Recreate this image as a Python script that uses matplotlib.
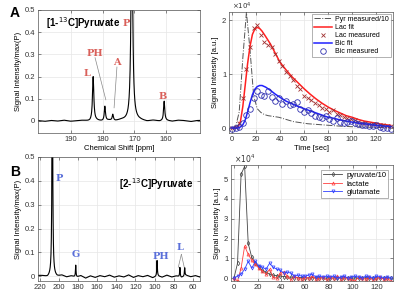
import numpy as np
import matplotlib.pyplot as plt

plt.rcParams['font.family'] = ['Liberation Sans', 'DejaVu Sans']

# --- Panel A, spectrum [1-13C]pyruvate: peak positions (ppm), heights, half-widths
a_peak_ppm = [183.0, 179.3, 176.8, 170.8, 160.6]
a_peak_h = [0.20, 0.065, 0.027, 1.0, 0.088]
a_peak_w = [0.25, 0.22, 0.22, 0.30, 0.22]
a_base_ppm = [150, 152, 154, 156, 158, 160, 162, 164, 166, 168, 170, 172, 174,
              176, 178, 180, 182, 184, 186, 188, 190, 192, 194, 196, 198, 200]
a_base_val = [0.002, -0.003, 0.001, 0.003, -0.002, 0.001, -0.002, 0.002, -0.003, 0.001,
              0.002, -0.002, 0.003, -0.001, 0.002, -0.002, 0.001, -0.003, 0.002, 0.001,
              -0.002, 0.003, -0.001, 0.002, -0.002, 0.001]
a_labels = ['L', 'PH', 'A', 'P', 'B']
a_label_pos = [(185.0, 0.215), (182.6, 0.305), (175.6, 0.262), (172.6, 0.44), (161.0, 0.112)]

# --- Panel B, spectrum [2-13C]pyruvate
b_peak_ppm = [207.0, 182.5, 97.4, 73.5, 68.5]
b_peak_h = [1.0, 0.05, 0.065, 0.04, 0.035]
b_peak_w = [0.45, 0.35, 0.35, 0.35, 0.35]
b_base_ppm = [52, 57, 62, 67, 72, 77, 82, 87, 92, 97, 102, 107, 112, 117, 122, 127, 132,
              137, 142, 147, 152, 157, 162, 167, 172, 177, 182, 187, 192, 197, 202, 207,
              212, 217, 222]
b_base_val = [-0.004, 0.003, -0.002, 0.004, -0.005, 0.002, -0.003, 0.005, -0.004, 0.002,
              -0.006, 0.004, -0.002, 0.003, -0.005, 0.006, -0.003, 0.002, -0.004, 0.005,
              -0.002, 0.003, -0.005, 0.002, -0.008, 0.003, -0.004, 0.002, -0.003, 0.004,
              -0.002, 0.003, -0.004, 0.002, 0.003]
b_labels = ['P', 'G', 'PH', 'L']
b_label_pos = [(200.0, 0.41), (182.5, 0.09), (93.0, 0.084), (73.0, 0.12)]

# --- Panel A kinetics (units of 1e4)
t_meas = list(range(0, 133, 3))
pyr_a = [0.0, 0.02, 0.3, 1.3, 2.15, 1.45, 0.6, 0.36, 0.29, 0.25, 0.23, 0.22, 0.21, 0.2,
         0.18, 0.16, 0.14, 0.12, 0.11, 0.1, 0.09, 0.08, 0.075, 0.07, 0.065, 0.06, 0.055,
         0.05, 0.045, 0.04, 0.035, 0.03, 0.03, 0.025, 0.025, 0.02, 0.02, 0.02, 0.015,
         0.015, 0.01, 0.01, 0.01, 0.01, 0.01]
lac_meas = [0.0, 0.02, 0.1, 0.55, 1.1, 1.5, 1.85, 1.92, 1.72, 1.6, 1.55, 1.5, 1.37, 1.25,
            1.15, 1.05, 0.97, 0.9, 0.78, 0.72, 0.6, 0.56, 0.52, 0.47, 0.42, 0.38, 0.36,
            0.3, 0.33, 0.27, 0.25, 0.2, 0.18, 0.17, 0.15, 0.12, 0.1, 0.09, 0.08, 0.07,
            0.07, 0.05, 0.05, 0.03, 0.04]
bic_meas = [-0.02, 0.0, 0.02, 0.1, 0.25, 0.35, 0.55, 0.68, 0.62, 0.6, 0.68, 0.58, 0.5,
            0.55, 0.45, 0.5, 0.42, 0.45, 0.48, 0.35, 0.3, 0.33, 0.28, 0.22, 0.2, 0.18,
            0.22, 0.16, 0.14, 0.18, 0.12, 0.1, 0.12, 0.14, 0.1, 0.08, 0.06, 0.05, 0.04,
            0.03, 0.05, 0.02, 0.01, 0.0, -0.01]
t_fit = [0, 3, 5, 7, 9, 11, 13, 15, 17, 19, 21, 23, 25, 28, 32, 36, 40, 45, 50, 55, 60,
         65, 70, 75, 80, 85, 90, 95, 100, 105, 110, 115, 120, 125, 132]
lac_fit = [0.0, 0.0, 0.02, 0.12, 0.4, 0.8, 1.2, 1.52, 1.74, 1.84, 1.87, 1.85, 1.8, 1.7,
           1.56, 1.39, 1.22, 1.08, 0.95, 0.84, 0.73, 0.63, 0.54, 0.46, 0.39, 0.33, 0.28,
           0.23, 0.2, 0.16, 0.13, 0.11, 0.09, 0.07, 0.05]
bic_fit = [0.0, 0.0, 0.0, 0.02, 0.06, 0.15, 0.3, 0.47, 0.62, 0.72, 0.77, 0.79, 0.79, 0.76,
           0.7, 0.63, 0.57, 0.5, 0.45, 0.4, 0.36, 0.32, 0.28, 0.24, 0.2, 0.18, 0.15, 0.13,
           0.11, 0.09, 0.08, 0.065, 0.05, 0.04, 0.03]

# --- Panel B kinetics (units of 1e4)
pyr_b = [0.0, 0.75, 5.25, 5.65, 1.75, 1.05, 0.75, 0.55, 0.4, 0.3, 0.2, 0.15, 0.12, 0.1,
         0.08, 0.05, 0.05, 0.03, 0.02, 0.03, 0.02, 0.0, 0.03, 0.01, 0.0, 0.02, 0.0, 0.01,
         0.0, 0.02, 0.0, 0.0, 0.02, 0.0, 0.01, 0.0, 0.0, 0.02, 0.0, 0.0, 0.01, 0.0, 0.0,
         0.0, 0.0]
lac_b = [0.0, -0.15, 0.5, 1.62, 1.2, 0.9, 0.7, 0.5, 0.35, 0.2, 0.45, 0.05, 0.0, 0.25, 0.3,
         0.1, -0.1, 0.1, 0.0, -0.05, 0.05, 0.0, 0.1, -0.05, 0.0, 0.05, -0.1, 0.05, 0.0,
         0.1, -0.05, 0.05, 0.0, -0.05, -0.15, 0.05, 0.0, -0.05, 0.05, -0.1, 0.0, 0.05,
         -0.05, 0.0, -0.15]
glu_b = [0.0, 0.1, 0.2, 0.45, 0.85, 0.5, 0.85, 0.6, 0.55, 0.45, 0.75, 0.55, 0.45, 0.4,
         0.25, 0.3, 0.25, 0.1, 0.15, 0.1, 0.1, 0.15, 0.2, 0.05, 0.1, 0.05, 0.1, 0.05, 0.1,
         0.0, 0.05, 0.1, 0.0, 0.05, 0.1, 0.05, 0.0, 0.1, 0.05, 0.0, 0.1, 0.05, 0.0, 0.05,
         0.0]

red_lab = '#d9605a'
blue_lab = '#5a6fd9'
grid_c = '#e6e6e6'


def lorentz_sum(x, pos, h, w):
    y = np.zeros_like(x)
    for p, hh, ww in zip(pos, h, w):
        y += hh / (1 + ((x - p) / ww) ** 2)
    return y


def style(ax):
    for s in ax.spines.values():
        s.set_color('#555555')
        s.set_linewidth(0.5)
    ax.tick_params(direction='in', length=2, width=0.4, labelsize=5.5,
                   colors='#333333', top=True, right=True, pad=2)
    ax.grid(True, color=grid_c, linewidth=0.5)
    ax.set_axisbelow(True)


fig = plt.figure(figsize=(4, 2.94), dpi=100)
ax1 = fig.add_axes([0.095, 0.548, 0.405, 0.418])
ax2 = fig.add_axes([0.5725, 0.548, 0.41, 0.412])
ax3 = fig.add_axes([0.095, 0.044, 0.405, 0.422])
ax4 = fig.add_axes([0.5775, 0.044, 0.405, 0.395])
for ax in (ax1, ax2, ax3, ax4):
    style(ax)

# Spectrum A
xa = np.linspace(149, 201, 3000)
ya = lorentz_sum(xa, a_peak_ppm, a_peak_h, a_peak_w) + np.interp(xa, a_base_ppm, a_base_val)
ax1.plot(xa, ya, color='black', lw=0.8)
ax1.set_xlim(200.4, 149.3)
ax1.set_ylim(-0.054, 0.5)
ax1.set_xticks([190, 180, 170, 160])
ax1.set_yticks([0, 0.1, 0.2, 0.3, 0.4, 0.5])
ax1.set_yticklabels(['0', '0.1', '0.2', '0.3', '0.4', '0.5'])
ax1.set_xlabel('Chemical Shift [ppm]', fontsize=5.5, labelpad=2)
ax1.set_ylabel('Signal Intensity/max(P)', fontsize=5.5, labelpad=2)
for lab, (x, y) in zip(a_labels, a_label_pos):
    ax1.text(x, y, lab, color=red_lab, fontsize=7, fontweight='bold',
             family='DejaVu Serif', ha='center', va='center')
ax1.plot([182.4, 179.0], [0.285, 0.095], color='#888888', lw=0.5)
ax1.plot([175.5, 176.4], [0.243, 0.059], color='#888888', lw=0.5)
ax1.text(0.05, 0.89, '[1-$^{13}$C]Pyruvate', transform=ax1.transAxes,
         fontsize=7, fontweight='bold', ha='left', va='center')

# Spectrum B
xb = np.linspace(51, 223, 6000)
yb = lorentz_sum(xb, b_peak_ppm, b_peak_h, b_peak_w) + np.interp(xb, b_base_ppm, b_base_val)
ax3.plot(xb, yb, color='black', lw=0.8)
ax3.set_xlim(222.0, 52.5)
ax3.set_ylim(-0.02, 0.5)
ax3.set_xticks([220, 200, 180, 160, 140, 120, 100, 80, 60])
ax3.set_yticks([0, 0.1, 0.2, 0.3, 0.4, 0.5])
ax3.set_yticklabels(['0', '0.1', '0.2', '0.3', '0.4', '0.5'])
ax3.set_ylabel('Signal Intensity/max(P)', fontsize=5.5, labelpad=2)
for lab, (x, y) in zip(b_labels, b_label_pos):
    ax3.text(x, y, lab, color=blue_lab, fontsize=7, fontweight='bold',
             family='DejaVu Serif', ha='center', va='center')
ax3.plot([72.0, 75.2], [0.092, 0.038], color='#888888', lw=0.5)
ax3.plot([72.0, 69.0], [0.092, 0.038], color='#888888', lw=0.5)
ax3.text(0.5, 0.78, '[2-$^{13}$C]Pyruvate', transform=ax3.transAxes,
         fontsize=7, fontweight='bold', ha='left', va='center')

# Kinetics A
ax2.plot(t_meas, pyr_a, color='#555555', ls='-.', lw=0.7, label='Pyr measured/10')
ax2.plot(t_fit, lac_fit, color='#ff2020', lw=1.1, label='Lac fit')
ax2.plot(t_meas, lac_meas, ls='none', marker='x', ms=2.5, mew=0.6, color='#a03030',
         label='Lac measured')
ax2.plot(t_fit, bic_fit, color='#2020ff', lw=1.1, label='Bic fit')
ax2.plot(t_meas, bic_meas, ls='none', marker='o', ms=4, mew=0.6, mfc='none',
         color='#3030b0', label='Bic measured')
ax2.set_xlim(-2.5, 134)
ax2.set_ylim(-0.09, 2.16)
ax2.set_xticks([0, 20, 40, 60, 80, 100, 120])
ax2.set_yticks([0, 1, 2])
ax2.set_xlabel('Time [sec]', fontsize=5.5, labelpad=2)
ax2.set_ylabel('Signal Intensity [a.u.]', fontsize=5.5, labelpad=2)
ax2.text(0.02, 0.995, r'$\times10^4$', transform=ax2.transAxes, fontsize=5,
         ha='left', va='bottom', color='#333333')
leg = ax2.legend(loc='upper right', fontsize=5, frameon=True, fancybox=False,
                 handlelength=2.5, borderpad=0.3, labelspacing=0.15, handletextpad=0.5,
                 borderaxespad=0.3)
leg.get_frame().set_edgecolor('#777777')
leg.get_frame().set_linewidth(0.5)

# Kinetics B
ax4.plot(t_meas, pyr_b, color='#444444', lw=0.6, marker='d', ms=2.2, mfc='none',
         mew=0.5, label='pyruvate/10')
ax4.plot(t_meas, lac_b, color='#ff4040', lw=0.6, marker='^', ms=2.2, mfc='none',
         mew=0.5, label='lactate')
ax4.plot(t_meas, glu_b, color='#3040ff', lw=0.6, marker='v', ms=2.2, mfc='none',
         mew=0.5, label='glutamate')
ax4.set_xlim(-2.5, 134)
ax4.set_ylim(-0.15, 5.72)
ax4.set_xticks([0, 20, 40, 60, 80, 100, 120])
ax4.set_yticks([0, 1, 2, 3, 4, 5])
ax4.set_ylabel('Signal Intensity [a.u.]', fontsize=5.5, labelpad=2)
ax4.text(0.02, 1.0, r'$\times10^4$', transform=ax4.transAxes, fontsize=5.5,
         ha='left', va='bottom', color='#333333')
leg = ax4.legend(loc='upper right', fontsize=5.5, frameon=True, fancybox=False,
                 handlelength=2.5, borderpad=0.3, labelspacing=0.15, handletextpad=0.5,
                 borderaxespad=0.6)
leg.get_frame().set_edgecolor('#777777')
leg.get_frame().set_linewidth(0.5)

# panel letters
fig.text(0.025, 0.955, 'A', fontsize=10, fontweight='bold', va='center')
fig.text(0.025, 0.415, 'B', fontsize=10, fontweight='bold', va='center')

fig.savefig('out.png', dpi=100)
